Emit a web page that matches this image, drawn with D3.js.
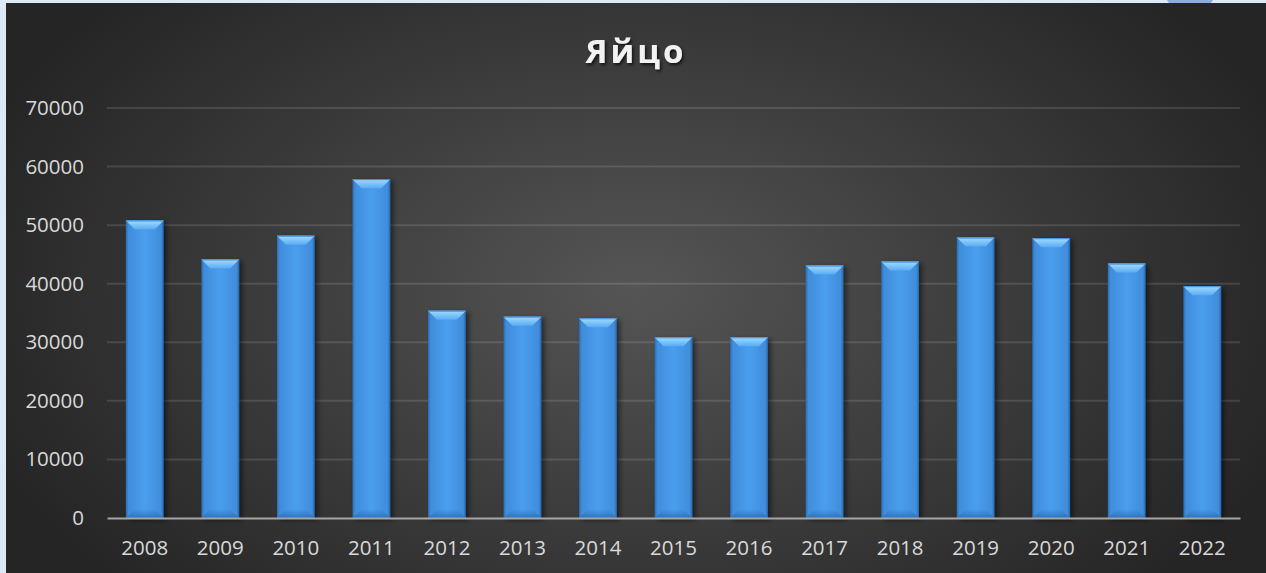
<!DOCTYPE html>
<html lang="ru">
<head>
<meta charset="utf-8">
<title>Яйцо</title>
<script src="https://cdnjs.cloudflare.com/ajax/libs/d3/7.8.5/d3.min.js"></script>
<style>
  html, body { margin: 0; padding: 0; background: #dde9f6; overflow: hidden; }
  svg { display: block; }
</style>
</head>
<body>
<script>
// chart data
const years = ["2008","2009","2010","2011","2012","2013","2014","2015","2016","2017","2018","2019","2020","2021","2022"];
const values = [50800, 44150, 48200, 57850, 35400, 34380, 34100, 30850, 30850, 43100, 43780, 47880, 47770, 43440, 39570];
const yTicks = [0, 10000, 20000, 30000, 40000, 50000, 60000, 70000];
const title = "Яйцо";

const W = 1266, H = 573;
const frame = { left: 6, top: 3 };
const margin = { top: 108, right: 26, bottom: 55, left: 107 };

const svg = d3.select("body").append("svg")
    .attr("width", W)
    .attr("height", H);

const defs = svg.append("defs");

// background radial gradient
const bg = defs.append("radialGradient")
    .attr("id", "bg")
    .attr("gradientUnits", "userSpaceOnUse")
    .attr("cx", 636).attr("cy", 290).attr("r", 700)
    .attr("gradientTransform", "translate(636,290) scale(1,0.62) translate(-636,-290)");
bg.append("stop").attr("offset", "0%").attr("stop-color", "#555555");
bg.append("stop").attr("offset", "100%").attr("stop-color", "#252525");

// bar body gradient (horizontal)
const body = defs.append("linearGradient").attr("id", "barBody")
    .attr("x1", "0").attr("x2", "1").attr("y1", "0").attr("y2", "0");
body.append("stop").attr("offset", "0%").attr("stop-color", "#2a6cb4");
body.append("stop").attr("offset", "7%").attr("stop-color", "#3f8ddb");
body.append("stop").attr("offset", "50%").attr("stop-color", "#4b9eee");
body.append("stop").attr("offset", "93%").attr("stop-color", "#3f8ddb");
body.append("stop").attr("offset", "100%").attr("stop-color", "#2766ac");

// bevel top gradient
const topG = defs.append("linearGradient").attr("id", "barTop")
    .attr("x1", "0").attr("x2", "0").attr("y1", "0").attr("y2", "1");
topG.append("stop").attr("offset", "0%").attr("stop-color", "#a4dcff");
topG.append("stop").attr("offset", "100%").attr("stop-color", "#58acf3");

// bevel bottom gradient
const botG = defs.append("linearGradient").attr("id", "barBot")
    .attr("x1", "0").attr("x2", "0").attr("y1", "0").attr("y2", "1");
botG.append("stop").attr("offset", "0%").attr("stop-color", "#2f78c4").attr("stop-opacity", 0);
botG.append("stop").attr("offset", "100%").attr("stop-color", "#2a6db5").attr("stop-opacity", 0.9);

const shadow = defs.append("filter").attr("id", "shadow")
    .attr("x", "-20%").attr("y", "-5%").attr("width", "150%").attr("height", "115%");
shadow.append("feDropShadow")
    .attr("dx", 3).attr("dy", 2).attr("stdDeviation", 2.5)
    .attr("flood-color", "#000").attr("flood-opacity", 0.5);

const titleShadow = defs.append("filter").attr("id", "tshadow")
    .attr("x", "-10%").attr("y", "-20%").attr("width", "130%").attr("height", "150%");
titleShadow.append("feDropShadow")
    .attr("dx", 1.5).attr("dy", 2).attr("stdDeviation", 1.5)
    .attr("flood-color", "#000").attr("flood-opacity", 0.7);

// frame + background
svg.append("rect")
    .attr("x", frame.left).attr("y", frame.top)
    .attr("width", W - frame.left).attr("height", H - frame.top)
    .attr("fill", "url(#bg)");

// small tab at the top right of the frame
svg.append("path")
    .attr("d", "M1167,0 L1213,0 L1211,3 L1169,3 Z")
    .attr("fill", "#8eaae2");

const x = d3.scaleBand()
    .domain(years)
    .range([margin.left, W - margin.right])
    .paddingInner(0.5)
    .paddingOuter(0.25);

const y = d3.scaleLinear()
    .domain([0, 70000])
    .range([H - margin.bottom, margin.top]);

// gridlines
svg.append("g")
    .selectAll("line")
    .data(yTicks.filter(d => d > 0))
    .join("line")
    .attr("x1", margin.left).attr("x2", W - margin.right)
    .attr("y1", d => y(d)).attr("y2", d => y(d))
    .attr("stroke", "rgba(255,255,255,0.12)")
    .attr("stroke-width", 2);

// y axis labels
const yAxis = svg.append("g")
    .attr("transform", `translate(${margin.left - 23},0)`)
    .call(d3.axisLeft(y).tickValues(yTicks).tickSize(0).tickPadding(0).tickFormat(d3.format("d")));
yAxis.select(".domain").remove();
yAxis.selectAll("text")
    .attr("fill", "#d9d9d9")
    .attr("font-family", "'Open Sans', sans-serif")
    .attr("font-size", 20.5);

// bars
const bars = svg.append("g").selectAll("g")
    .data(years.map((yr, i) => ({ yr, v: values[i] })))
    .join("g")
    .attr("filter", "url(#shadow)");

bars.append("rect")
    .attr("x", d => x(d.yr))
    .attr("y", d => y(d.v))
    .attr("width", x.bandwidth())
    .attr("height", d => y(0) - y(d.v))
    .attr("fill", "url(#barBody)");

const bev = 9;
bars.append("path")
    .attr("d", d => {
      const x0 = x(d.yr), x1 = x0 + x.bandwidth(), b = y(0);
      return `M${x0},${b} L${x1},${b} L${x1 - bev},${b - bev} L${x0 + bev},${b - bev} Z`;
    })
    .attr("fill", "url(#barBot)");

bars.append("path")
    .attr("d", d => {
      const x0 = x(d.yr), x1 = x0 + x.bandwidth(), t = y(d.v);
      return `M${x0},${t} L${x1},${t} L${x1 - bev},${t + bev} L${x0 + bev},${t + bev} Z`;
    })
    .attr("fill", "url(#barTop)");

bars.append("line")
    .attr("x1", d => x(d.yr)).attr("x2", d => x(d.yr) + x.bandwidth())
    .attr("y1", d => y(d.v) + 0.5).attr("y2", d => y(d.v) + 0.5)
    .attr("stroke", "#3a88d6").attr("stroke-width", 1);

// x axis
const xAxis = svg.append("g")
    .attr("transform", `translate(0,${y(0)})`)
    .call(d3.axisBottom(x).tickSize(0).tickPadding(22));
xAxis.select(".domain")
    .attr("stroke", "#a6a6a6")
    .attr("stroke-width", 2);
xAxis.selectAll("text")
    .attr("fill", "#d9d9d9")
    .attr("font-family", "'Open Sans', sans-serif")
    .attr("font-size", 20.5);

// title
svg.append("text")
    .attr("x", 636)
    .attr("y", 63)
    .attr("text-anchor", "middle")
    .attr("fill", "#f2f2f2")
    .attr("font-family", "'Open Sans', sans-serif")
    .attr("font-weight", "bold")
    .attr("font-size", 33)
    .attr("letter-spacing", 3)
    .attr("filter", "url(#tshadow)")
    .text(title);
</script>
</body>
</html>
